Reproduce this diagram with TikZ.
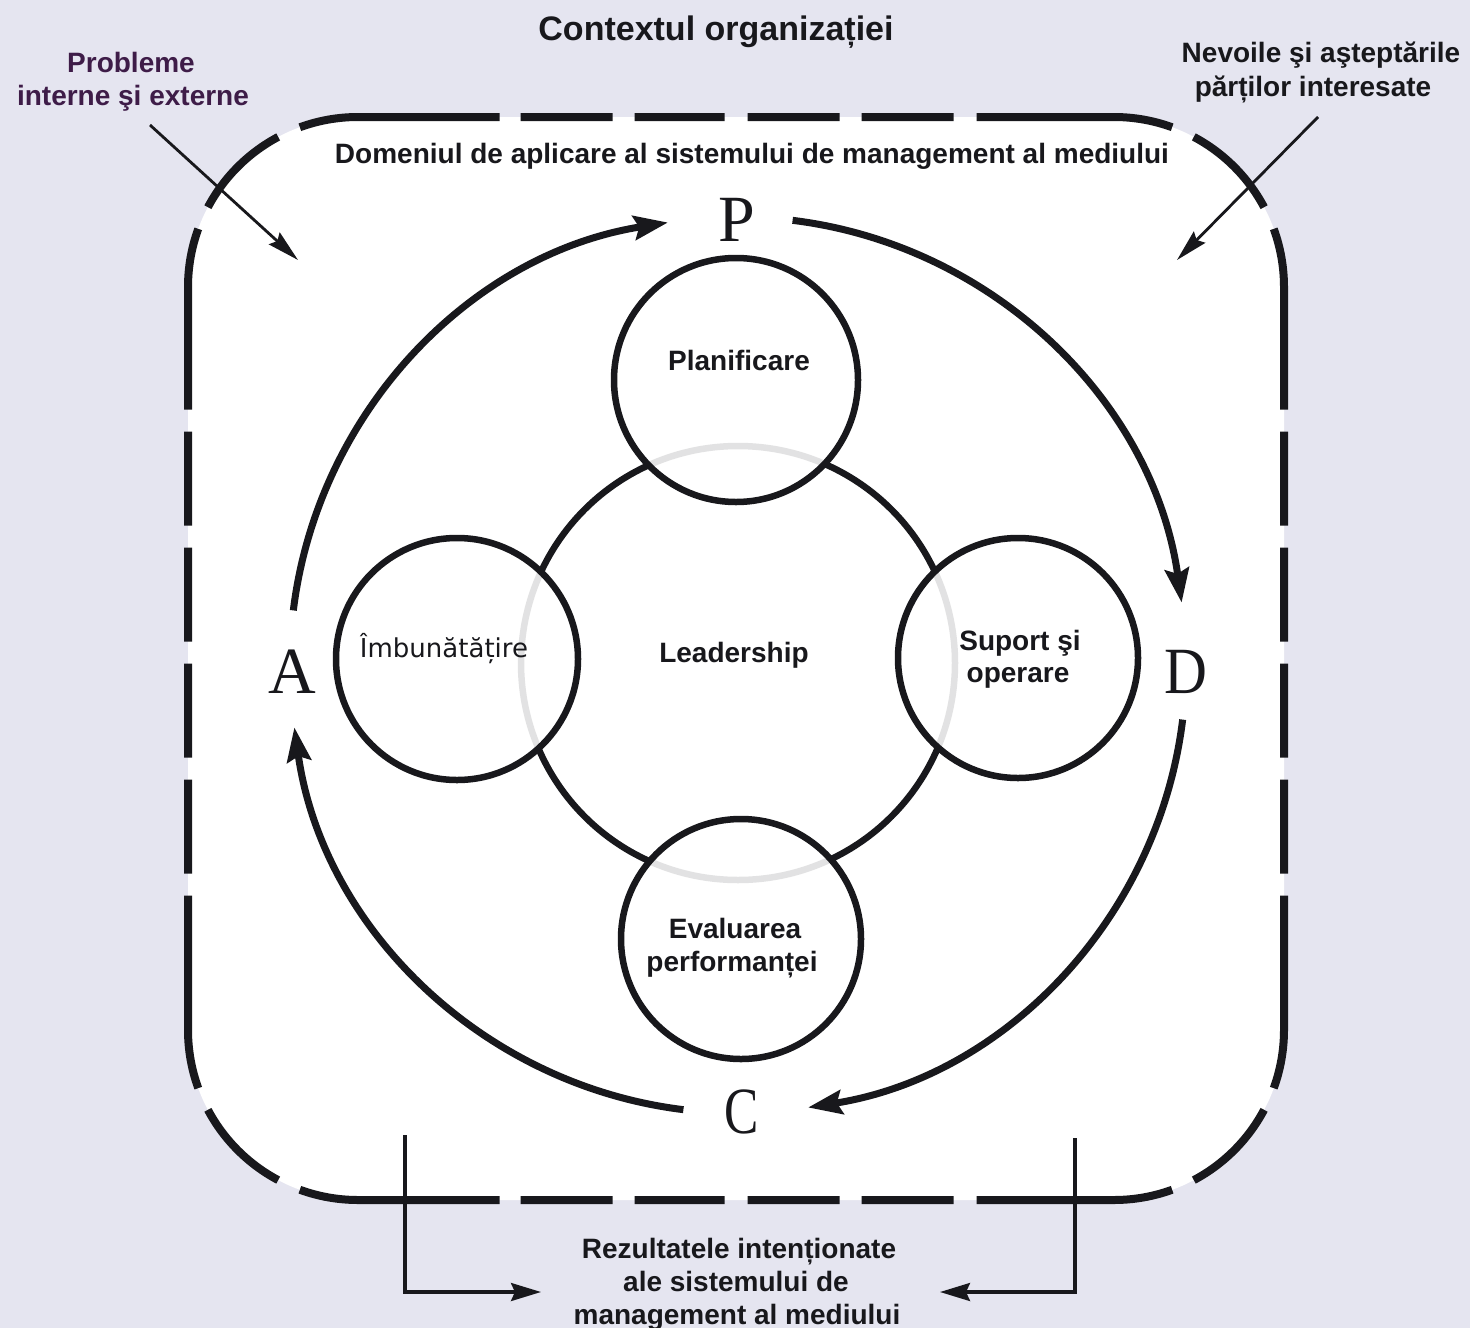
\documentclass[tikz,border=0pt]{standalone}
\usepackage{graphicx}
\usepackage{fontspec}
\setmainfont{Liberation Sans}
\newfontfamily\dvsans{DejaVu Sans}
\newfontfamily\libserif{Liberation Serif}
\usetikzlibrary{arrows.meta}
\definecolor{bgcol}{RGB}{229,229,240}
\definecolor{purp}{RGB}{62,28,72}
\definecolor{ink}{RGB}{24,24,28}
\begin{document}
\begin{tikzpicture}[x=1pt,y=1pt,yscale=-1,
  txt/.style={font=\fontsize{28}{33}\selectfont\bfseries, text=ink, inner sep=0pt, anchor=base},
  outline/.style={line width=8pt, draw=ink},
  ring/.style={circle, draw=ink, line width=6.5pt, fill=white, fill opacity=0.88, inner sep=0pt},
  pdca/.style={line width=7pt, draw=ink, -{Stealth[length=34pt,width=24pt,inset=5pt]}},
  letter/.style={font=\libserif\fontsize{66}{66}\selectfont, text=ink, inner sep=0pt},
  thinarrow/.style={line width=2.8pt, draw=ink, -{Stealth[length=32pt,width=16pt,inset=4pt]}},
  brk/.style={line width=3.2pt, draw=ink, -{Stealth[length=30pt,width=18pt,inset=4pt]}}
]
\fill[bgcol] (0,0) rectangle (1470,1328);
\useasboundingbox (0,0) rectangle (1470,1328);
\fill[white, rounded corners=170pt] (188,117) rectangle (1284,1200);

% corner centres
\coordinate (TLc) at (358,287);
\coordinate (TRc) at (1114,287);
\coordinate (BRc) at (1114,1030);
\coordinate (BLc) at (358,1030);

% dashed scope outline
\draw[outline, dash pattern=on 201pt off 21pt on 92pt off 22pt on 90pt off 23pt on 92pt off 22pt on 92pt off 23pt on 400pt]
  (TLc) ++(250:170) arc[start angle=250, end angle=270, radius=170] -- (1114,117)
  arc[start angle=270, end angle=290, radius=170];
\draw[outline, dash pattern=on 201pt off 21pt on 92pt off 22pt on 90pt off 23pt on 92pt off 22pt on 92pt off 23pt on 400pt]
  (BLc) ++(110:170) arc[start angle=110, end angle=90, radius=170] -- (1114,1200)
  arc[start angle=90, end angle=70, radius=170];
\draw[outline, dash pattern=on 182pt off 22pt on 94pt off 22pt on 94pt off 22pt on 94pt off 22pt on 94pt off 22pt on 400pt]
  (TLc) ++(200:170) arc[start angle=200, end angle=180, radius=170] -- (188,1030)
  arc[start angle=180, end angle=160, radius=170];
\draw[outline, dash pattern=on 182pt off 22pt on 94pt off 22pt on 94pt off 22pt on 94pt off 22pt on 94pt off 22pt on 400pt]
  (TRc) ++(340:170) arc[start angle=340, end angle=360, radius=170] -- (1284,1030)
  arc[start angle=0, end angle=20, radius=170];
\draw[outline] (TLc) ++(242:170) arc[start angle=242, end angle=208, radius=170];
\draw[outline] (TRc) ++(298:170) arc[start angle=298, end angle=332, radius=170];
\draw[outline] (BRc) ++(28:170) arc[start angle=28, end angle=62, radius=170];
\draw[outline] (BLc) ++(118:170) arc[start angle=118, end angle=152, radius=170];

% circles
\node[circle, draw=ink, line width=6.5pt, minimum size=434pt, inner sep=0pt] (lead) at (738,663) {};
\node[ring, minimum size=244pt] (plan) at (736,380) {};
\node[ring, minimum size=240pt] (evalc) at (741,939) {};
\node[ring, minimum size=242pt] (imb) at (457,659) {};
\node[ring, minimum size=240pt] (sup) at (1018,658) {};

% PDCA cycle
\coordinate (O) at (738,665);
\draw[pdca] (O) ++(187:448) arc[start angle=187, end angle=261, radius=448];
\draw[pdca] (O) ++(277:448) arc[start angle=277, end angle=352, radius=448];
\draw[pdca] (O) ++(7:448) arc[start angle=7, end angle=81, radius=448];
\draw[pdca] (O) ++(97:448) arc[start angle=97, end angle=172, radius=448];
\node[letter] (P) at (737,220) {P};
\node[letter] (D) at (1186,672) {\scalebox{0.9}[1]{D}};
\node[letter] (C) at (742,1112) {\scalebox{0.78}[1]{C}};
\node[letter] (A) at (292,672) {A};

% texts
\node[txt, font=\fontsize{34}{40}\selectfont\bfseries] (title) at (716,40) {Contextul organizației};
\node[txt, text=purp] (probA) at (131,72) {Probleme};
\node[txt, text=purp] (probB) at (133,105) {interne şi externe};
\node[txt] (nevA) at (1321,62) {Nevoile şi aşteptările};
\node[txt] (nevB) at (1313,96) {părților interesate};
\node[txt] (dom) at (752,163) {Domeniul de aplicare al sistemului de management al mediului};
\node[txt] (tplan) at (739,370) {Planificare};
\node[txt] (tlead) at (734,662) {Leadership};
\node[txt, font=\dvsans\fontsize{26}{30}\selectfont] (timb) at (444,657) {Îmbunătățire};
\node[txt] (tsupA) at (1020,650) {Suport şi};
\node[txt] (tsupB) at (1018,682) {operare};
\node[txt] (tevA) at (735,938) {Evaluarea};
\node[txt] (tevB) at (732,971) {performanței};
\node[txt] (rezA) at (739,1258) {Rezultatele intenționate};
\node[txt] (rezB) at (736,1291) {ale sistemului de};
\node[txt] (rezC) at (737,1324) {management al mediului};

% context arrows
\coordinate (pbS) at (150,125);
\coordinate (pbE) at (298,260);
\draw[thinarrow] (pbS) -- (pbE);
\coordinate (nvS) at (1318,117);
\coordinate (nvE) at (1177,260);
\draw[thinarrow] (nvS) -- (nvE);

% result brackets
\coordinate (bl0) at (405,1135);
\coordinate (bl1) at (541,1292);
\draw[brk] (bl0) |- (bl1);
\coordinate (br0) at (1075,1138);
\coordinate (br1) at (940,1292);
\draw[brk] (br0) |- (br1);
\end{tikzpicture}
\end{document}
